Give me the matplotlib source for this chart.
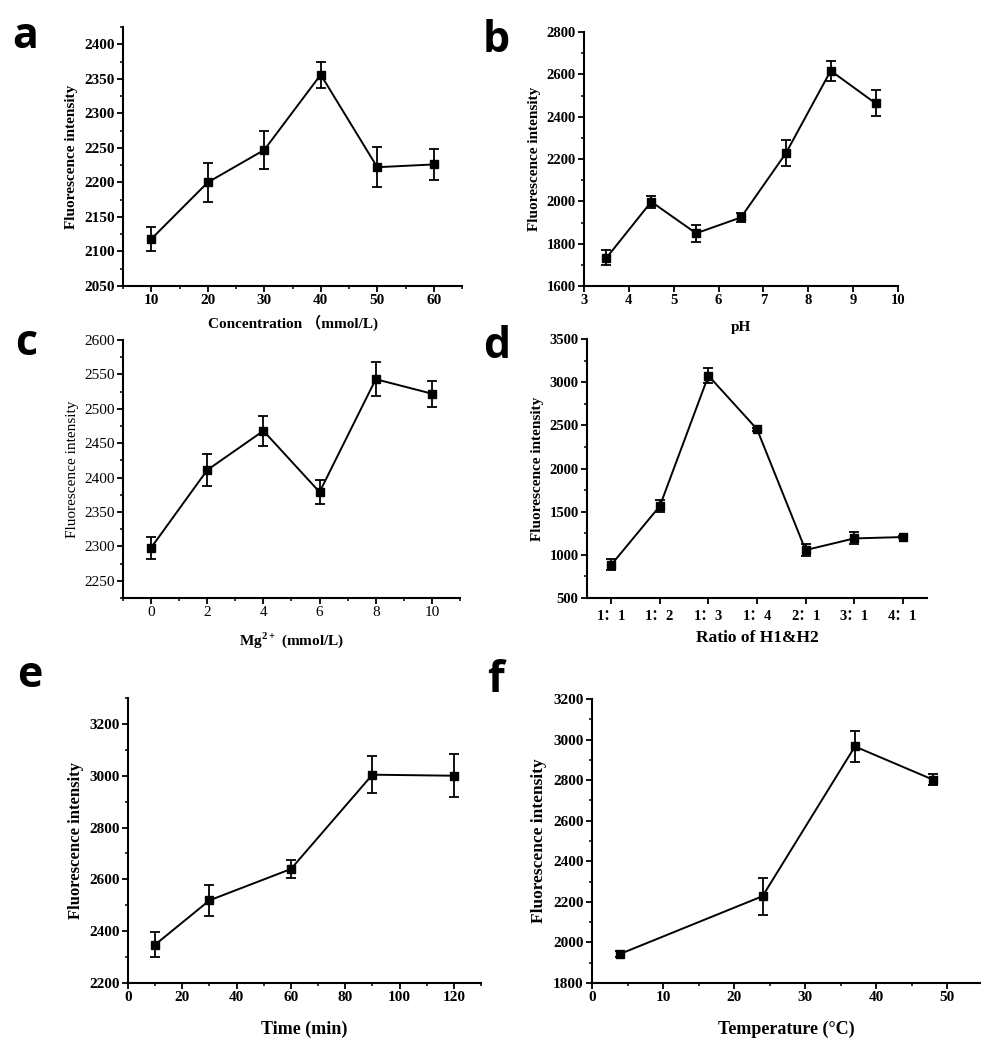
import matplotlib
matplotlib.use("Agg")
import matplotlib.pyplot as plt
from matplotlib.ticker import MultipleLocator

W, H = 993, 1050
SERIF = ['Liberation Serif', 'Noto Sans CJK SC', 'DejaVu Serif']
plt.rcParams['font.family'] = SERIF
plt.rcParams['mathtext.fontset'] = 'custom'
plt.rcParams['mathtext.rm'] = 'Liberation Serif'
plt.rcParams['mathtext.bf'] = 'Liberation Serif:bold'

# ---- data ----
a_x = [10, 20, 30, 40, 50, 60]
a_y = [2118, 2200, 2247, 2356, 2222, 2226]
a_err = [18, 28, 27, 19, 29, 23]

b_x = [3.5, 4.5, 5.5, 6.5, 7.5, 8.5, 9.5]
b_y = [1733, 1998, 1849, 1924, 2227, 2617, 2463]
b_err = [35, 28, 40, 22, 62, 48, 62]

c_x = [0, 2, 4, 6, 8, 10]
c_y = [2298, 2411, 2468, 2379, 2543, 2522]
c_err = [16, 23, 22, 17, 25, 19]

d_labels = ['1：1', '1：2', '1：3', '1：4', '2：1', '3：1', '4：1']
d_y = [885, 1565, 3075, 2456, 1055, 1190, 1206]
d_err = [65, 65, 85, 18, 70, 70, 15]

e_x = [10, 30, 60, 90, 120]
e_y = [2348, 2519, 2640, 3004, 3000]
e_err = [47, 59, 34, 72, 82]

f_x = [4, 24, 37, 48]
f_y = [1944, 2228, 2966, 2802]
f_err = [15, 92, 75, 27]

fig = plt.figure(figsize=(W / 100, H / 100), dpi=100)


def rect(l, r, t, b):
    return [l / W, 1 - b / H, (r - l) / W, (b - t) / H]


def make_ax(box, x, y, err, xlim, ylim, xmaj, xmin, ymaj, ymin, xlabel,
            tick_fs=11, tick_w='bold', ylab_fs=11, ylab_w='bold', xlab_fs=12,
            xlab_pad=4, ylab_pad=4):
    ax = fig.add_axes(rect(*box))
    ax.errorbar(x, y, yerr=err, color='black', lw=1.4, marker='s', ms=5.5,
                capsize=3.5, elinewidth=1.3, capthick=1.3)
    ax.set_xlim(*xlim)
    ax.set_ylim(*ylim)
    for s in ['top', 'right']:
        ax.spines[s].set_visible(False)
    for s in ['left', 'bottom']:
        ax.spines[s].set_linewidth(1.5)
    if xmaj is not None:
        ax.xaxis.set_major_locator(MultipleLocator(xmaj))
    if xmin is not None:
        ax.xaxis.set_minor_locator(MultipleLocator(xmin))
    ax.yaxis.set_major_locator(MultipleLocator(ymaj))
    ax.yaxis.set_minor_locator(MultipleLocator(ymin))
    ax.tick_params(which='major', direction='out', length=4, width=1.3,
                   labelsize=tick_fs, pad=2)
    ax.tick_params(which='minor', direction='out', length=2.5, width=1.1)
    for lab in ax.get_xticklabels() + ax.get_yticklabels():
        lab.set_fontweight(tick_w)
    ax.set_ylabel('Fluorescence intensity', fontsize=ylab_fs,
                  fontweight=ylab_w, labelpad=ylab_pad)
    ax.set_xlabel(xlabel, fontsize=xlab_fs, fontweight='bold',
                  labelpad=xlab_pad)
    return ax


# a
make_ax((123, 462, 27, 286), a_x, a_y, a_err, (5, 65), (2050, 2425),
        10, 5, 50, 25, 'Concentration （mmol/L)', xlab_fs=11, xlab_pad=5)
# b
make_ax((584, 898, 32, 286), b_x, b_y, b_err, (3, 10), (1600, 2800),
        1, None, 200, 100, 'pH', tick_fs=10.5, xlab_fs=11, xlab_pad=10)
# c
make_ax((123, 460, 340, 598), c_x, c_y, c_err, (-1, 11), (2225, 2600),
        2, 1, 50, 25, r'Mg$^{\mathbf{2+}}$ (mmol/L)', tick_w='normal',
        ylab_w='normal', xlab_fs=11, xlab_pad=8)
# d
axd = make_ax((587, 927, 339, 598), list(range(len(d_labels))), d_y, d_err,
              (-0.5, 6.5), (500, 3500), 1, None, 500, 250, 'Ratio of H1&H2',
              tick_fs=10.5, xlab_fs=12.5, xlab_pad=5)
axd.set_xticks(list(range(len(d_labels))))
axd.set_xticklabels(d_labels, fontsize=10.5, fontweight='bold')
axd.tick_params(axis='x', which='major', pad=5)
# e
make_ax((128, 481, 698, 983), e_x, e_y, e_err, (0, 130), (2200, 3300),
        20, 10, 200, 100, 'Time (min)', tick_fs=11, ylab_fs=12, xlab_fs=13,
        xlab_pad=12)
# f
make_ax((592, 980, 699, 983), f_x, f_y, f_err, (0, 54.6), (1800, 3200),
        10, 5, 200, 100, 'Temperature (°C)', tick_fs=11, ylab_fs=12.5,
        xlab_fs=13, xlab_pad=12)

# panel letters
for letter, px, py in [('a', 12, 48), ('b', 483, 52), ('c', 15, 355),
                       ('d', 483, 358), ('e', 17, 687), ('f', 487, 692)]:
    fig.text(px / W, 1 - py / H, letter, fontsize=31, fontweight='bold',
             family=['Open Sans', 'DejaVu Sans'], ha='left', va='baseline')

fig.savefig('out.png', dpi=100)
